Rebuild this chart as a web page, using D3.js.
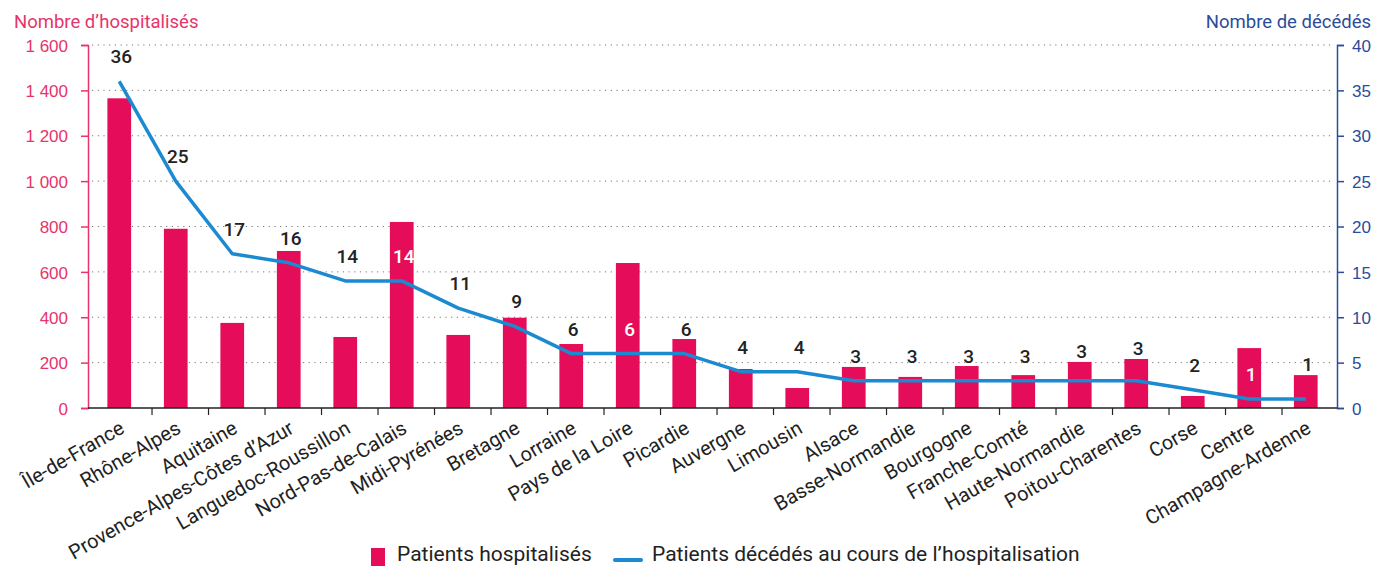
<!DOCTYPE html>
<html>
<head>
<meta charset="utf-8">
<script src="https://cdn.jsdelivr.net/npm/d3@7"></script>
<style>
  body { margin: 0; background: #fff; }
  svg { font-family: Roboto, "Noto Sans", sans-serif; }
</style>
</head>
<body>
<svg id="chart" width="1386" height="566"></svg>
<script>
const regions = ["Île-de-France", "Rhône-Alpes", "Aquitaine", "Provence-Alpes-Côtes d’Azur",
  "Languedoc-Roussillon", "Nord-Pas-de-Calais", "Midi-Pyrénées", "Bretagne", "Lorraine",
  "Pays de la Loire", "Picardie", "Auvergne", "Limousin", "Alsace", "Basse-Normandie",
  "Bourgogne", "Franche-Comté", "Haute-Normandie", "Poitou-Charentes", "Corse", "Centre",
  "Champagne-Ardenne"]
const hospitalises = [1365, 790, 375, 692, 313, 820, 322, 398, 282, 639, 304, 172, 88, 181, 137,
  185, 145, 203, 216, 53, 264, 145]
const decedes = [36, 25, 17, 16, 14, 14, 11, 9, 6, 6, 6, 4, 4, 3, 3, 3, 3, 3, 3, 2, 1, 1]
const leftTicks = [0, 200, 400, 600, 800, 1000, 1200, 1400, 1600]
const rightTicks = [0, 5, 10, 15, 20, 25, 30, 35, 40]

const PINK = "#e50c5a"
const PINK_TEXT = "#e8336b"
const BLUE_AXIS = "#2b4c9b"
const BLUE_LINE = "#1b8ad1"

const svg = d3.select("#chart")
const X0 = 88, X1 = 1337, Y0 = 408, Y1 = 45

const x = d3.scaleBand().domain(regions).range([91, 1334]).paddingInner(0.58).paddingOuter(0.29)
const yL = d3.scaleLinear().domain([0, 1600]).range([Y0, Y1])
const yR = d3.scaleLinear().domain([0, 40]).range([Y0, Y1])
const cx = d => x(d) + x.bandwidth() / 2

//Dotted gridlines
svg.append("g").selectAll("line")
  .data(leftTicks.slice(1))
  .join("line")
  .attr("x1", X0 + 4).attr("x2", X1 - 4)
  .attr("y1", d => yL(d)).attr("y2", d => yL(d))
  .attr("stroke", "#777")
  .attr("stroke-width", 1)
  .attr("stroke-dasharray", "1.2,4.5")

//Bars
svg.append("g").selectAll("rect")
  .data(regions)
  .join("rect")
  .attr("x", d => x(d))
  .attr("width", x.bandwidth())
  .attr("y", (d, i) => yL(hospitalises[i]))
  .attr("height", (d, i) => Y0 - yL(hospitalises[i]))
  .attr("fill", PINK)

//Left axis
const gL = svg.append("g").attr("transform", `translate(${X0},0)`)
  .call(d3.axisLeft(yL).tickValues(leftTicks).tickSize(7).tickPadding(13)
    .tickFormat(d => d3.format(",")(d).replace(",", " ")))
gL.select(".domain").attr("stroke", PINK_TEXT).attr("stroke-width", 1.5)
gL.selectAll(".tick line").attr("stroke", PINK_TEXT).attr("stroke-width", 1.5)
gL.selectAll(".tick text").attr("fill", PINK_TEXT).style("font-size", "17px").attr("dy", "0.36em")

//Right axis
const gR = svg.append("g").attr("transform", `translate(${X1},0)`)
  .call(d3.axisRight(yR).tickValues(rightTicks).tickSize(7).tickPadding(8))
gR.select(".domain").attr("stroke", BLUE_AXIS).attr("stroke-width", 1.5)
gR.selectAll(".tick line").attr("stroke", BLUE_AXIS).attr("stroke-width", 1.5)
gR.selectAll(".tick text").attr("fill", BLUE_AXIS).style("font-size", "17px").attr("dy", "0.36em")

//Bottom axis
svg.append("line")
  .attr("x1", X0).attr("x2", X1).attr("y1", Y0).attr("y2", Y0)
  .attr("stroke", "#222").attr("stroke-width", 1.5)
svg.append("g").selectAll("line")
  .data(regions.slice(0, -1))
  .join("line")
  .attr("x1", d => x(d) + x.step() * 0.79).attr("x2", d => x(d) + x.step() * 0.79)
  .attr("y1", Y0).attr("y2", Y0 + 7)
  .attr("stroke", "#222").attr("stroke-width", 1.2)

//Category labels
svg.append("g").selectAll("text")
  .data(regions)
  .join("text")
  .attr("transform", d => `translate(${cx(d) + 3},${Y0 + 18}) rotate(-30)`)
  .attr("text-anchor", "end")
  .attr("dy", "0.35em")
  .attr("fill", "#222")
  .style("font-size", "20px")
  .text(d => d)

//Line of deaths
const line = d3.line()
  .x((d, i) => cx(regions[i]))
  .y(d => yR(d))
svg.append("path")
  .datum(decedes)
  .attr("d", line)
  .attr("fill", "none")
  .attr("stroke", BLUE_LINE)
  .attr("stroke-width", 3.5)
  .attr("stroke-linejoin", "round")

//Death labels, white when they sit inside a bar
const LABEL_H = 14
svg.append("g").selectAll("text")
  .data(decedes)
  .join("text")
  .each(function(d, i) {
    let base = yR(d) - 18
    const barTop = yL(hospitalises[i])
    let fill = "#222"
    if (barTop < base - LABEL_H - 2) {
      fill = "#fff"
    }
    else if (barTop < base + 2) {
      base = barTop - 4
    }
    d3.select(this)
      .attr("x", cx(regions[i]) + 2)
      .attr("y", base)
      .attr("fill", fill)
  })
  .attr("text-anchor", "middle")
  .style("font-size", "19px")
  .style("font-weight", 500)
  .text(d => d)

//Axis titles
svg.append("text")
  .attr("x", 14).attr("y", 28)
  .attr("fill", PINK_TEXT)
  .style("font-size", "18.5px")
  .text("Nombre d’hospitalisés")
svg.append("text")
  .attr("x", 1371).attr("y", 28)
  .attr("text-anchor", "end")
  .attr("fill", BLUE_AXIS)
  .style("font-size", "18.5px")
  .text("Nombre de décédés")

//Legend
const legend = svg.append("g")
legend.append("rect")
  .attr("x", 371).attr("y", 548).attr("width", 14).attr("height", 18)
  .attr("fill", PINK)
legend.append("text")
  .attr("x", 397).attr("y", 561)
  .attr("fill", "#222")
  .style("font-size", "21px")
  .text("Patients hospitalisés")
legend.append("line")
  .attr("x1", 615).attr("x2", 641).attr("y1", 560).attr("y2", 560)
  .attr("stroke", BLUE_LINE).attr("stroke-width", 4).attr("stroke-linecap", "round")
legend.append("text")
  .attr("x", 652).attr("y", 561)
  .attr("fill", "#222")
  .style("font-size", "21px")
  .text("Patients décédés au cours de l’hospitalisation")
</script>
</body>
</html>
